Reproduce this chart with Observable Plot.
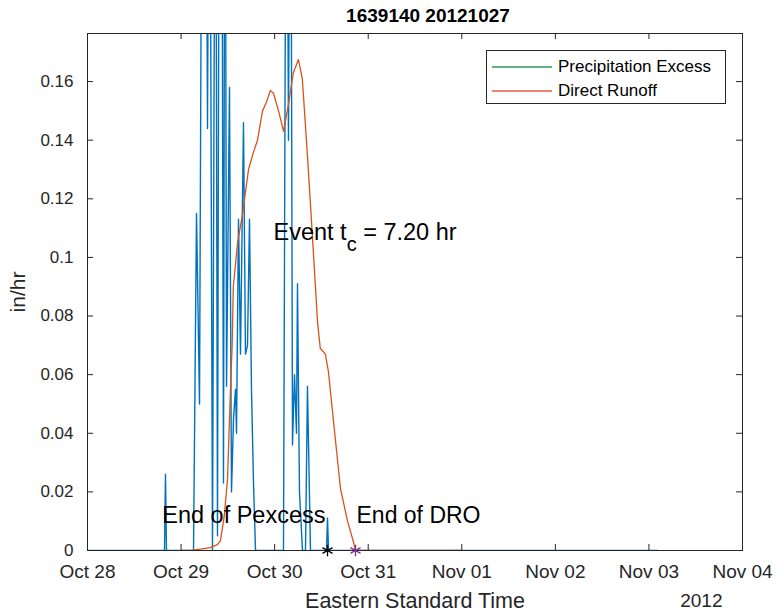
<!DOCTYPE html>
<html>
<head>
<meta charset="utf-8">
<script src="https://cdn.jsdelivr.net/npm/d3@7"></script>
<script src="https://cdn.jsdelivr.net/npm/@observablehq/plot@0.6"></script>
<style>
  body { margin: 0; background: #fff; font-family: "Liberation Sans", Arial, sans-serif; }
  #wrap { position: relative; width: 777px; height: 615px; }
  #legend { position: absolute; left: 486px; top: 50px; width: 240px; height: 54px;
            border: 1px solid #262626; background: #fff; box-sizing: border-box; }
  .row { position: absolute; left: 5px; height: 20px; display: flex; align-items: center;
         font-size: 17px; color: #000; white-space: nowrap; }
  .row svg { margin-right: 5px; }
</style>
</head>
<body>
<div id="wrap"></div>
<script>
// ---------------- data ----------------
const titleText = "1639140 20121027";
const eventStart = Date.UTC(2012, 9, 28); // Oct 28 2012 00:00 EST (axis origin)

// Precipitation excess (blue), hours since Oct 28 00:00 and in/hr
const pexHours  = [0, 19.75, 20.0, 20.26, 27.19, 27.96, 28.73, 29.49, 30.26, 30.78, 31.29, 32.06, 32.83, 33.34,
                   33.86, 34.37, 34.88, 35.27, 35.66, 36.42, 36.93, 37.45, 37.96, 38.22, 38.73, 39.24, 40.01,
                   40.52, 41.04, 41.55, 42.06, 42.58, 43.09, 50.27, 51.04, 51.55, 52.07, 52.58, 53.09, 53.60,
                   53.86, 54.37, 55.14, 55.91, 56.42, 57.19, 61.30, 61.56, 61.82, 146.2];
const pexValues = [0, 0, 0.026, 0, 0, 0.115, 0.05, 0.30, 0.30, 0.144, 0.30, 0, 0.30, 0.005,
                   0.30, 0.30, 0.023, 0.30, 0.056, 0.158, 0.02, 0.045, 0.055, 0.04, 0.113, 0.067, 0.146,
                   0.067, 0.07, 0.113, 0.055, 0.023, 0, 0, 0.30, 0.14, 0.30, 0.036, 0.06, 0.04,
                   0.091, 0.02, 0, 0, 0.056, 0, 0, 0.011, 0, 0];

// Direct runoff (orange)
const droHours  = [24, 26.4, 29.0, 31.5, 33.3, 34.1, 35.1, 35.9, 36.3, 36.7, 37.1, 37.4, 38.5, 39.8, 41.3, 42.6,
                   43.6, 44.9, 45.9, 46.9, 47.7, 49.0, 50.3, 51.5, 52.8, 54.1, 55.1, 56.4, 57.7, 59.0, 59.7,
                   61.0, 61.8, 63.1, 64.9, 66.7, 68.2, 68.74, 96];
const droValues = [0, 0, 0.0005, 0.001, 0.002, 0.0034, 0.012, 0.024, 0.04, 0.056, 0.07, 0.09, 0.105, 0.115, 0.13, 0.136,
                   0.14, 0.15, 0.153, 0.157, 0.156, 0.15, 0.143, 0.152, 0.163, 0.1675, 0.161, 0.135, 0.107, 0.078, 0.069,
                   0.067, 0.061, 0.044, 0.021, 0.010, 0.003, 0, 0];

// End markers
const endHours  = [61.56, 68.74];
const endLabels = ["End of Pexcess", "End of DRO"];
const endColors = ["#000000", "#7E2F8E"];
const endTextY  = 0.012;

const eventLabel = "Event t_c = 7.20 hr";
const eventHour = 47.7, eventY = 0.1085;

const xTickDates  = ["2012-10-28", "2012-10-29", "2012-10-30", "2012-10-31", "2012-11-01", "2012-11-02", "2012-11-03", "2012-11-04"];
const xTickLabels = ["Oct 28", "Oct 29", "Oct 30", "Oct 31", "Nov 01", "Nov 02", "Nov 03", "Nov 04"];
const yTicks      = [0, 0.02, 0.04, 0.06, 0.08, 0.1, 0.12, 0.14, 0.16];
const yTickLabels = ["0", "0.02", "0.04", "0.06", "0.08", "0.1", "0.12", "0.14", "0.16"];
const yMax = 0.1764;
const legendNames = ["Precipitation Excess", "Direct Runoff"];
const legendColors = ["#2e9a55", "#e85a45"];

// ---------------- build ----------------
const toDate = h => new Date(eventStart + h * 3600e3);
const pex = pexHours.map((h, i) => ({t: toDate(h), v: pexValues[i]}));
const dro = droHours.map((h, i) => ({t: toDate(h), v: droValues[i]}));
const ends = endHours.map((h, i) => ({t: toDate(h), v: 0, label: endLabels[i], color: endColors[i]}));
const xTicks = xTickDates.map(s => new Date(s + "T00:00:00Z"));
const xLab = new Map(xTicks.map((d, i) => [+d, xTickLabels[i]]));
const yLab = new Map(yTicks.map((d, i) => [d, yTickLabels[i]]));

const W = 777, H = 615, mL = 87, mR = 35, mT = 33, mB = 65;
const pw = W - mL - mR, ph = H - mT - mB, tk = 6;
const ax = "#262626";

const chart = Plot.plot({
  width: W, height: H,
  marginLeft: mL, marginRight: mR, marginTop: mT, marginBottom: mB,
  style: {fontFamily: "'Liberation Sans', Arial, sans-serif", color: ax, background: "#fff"},
  x: {type: "utc", domain: [xTicks[0], xTicks[xTicks.length - 1]]},
  y: {domain: [0, yMax]},
  marks: [
    Plot.line(pex, {x: "t", y: "v", stroke: "#0072BD", strokeWidth: 1.4, clip: true}),
    Plot.line(dro, {x: "t", y: "v", stroke: "#D95319", strokeWidth: 1.3, clip: true}),
    Plot.frame({stroke: ax, strokeWidth: 1}),
    Plot.tickX(xTicks, {x: d => d, insetTop: ph - tk, stroke: ax}),
    Plot.tickX(xTicks, {x: d => d, insetBottom: ph - tk, stroke: ax}),
    Plot.tickY(yTicks, {y: d => d, insetRight: pw - tk, stroke: ax}),
    Plot.tickY(yTicks, {y: d => d, insetLeft: pw - tk, stroke: ax}),
    Plot.dot(ends, {x: "t", y: "v", symbol: "asterisk", r: 5.5, stroke: "color", strokeWidth: 1.3}),
    Plot.text([ends[0]], {x: "t", y: () => endTextY, text: "label", textAnchor: "end", dx: -2, fontSize: 23.5, fill: "#000"}),
    Plot.text([ends[1]], {x: "t", y: () => endTextY, text: "label", textAnchor: "start", dx: 1, fontSize: 23, fill: "#000"}),
    Plot.text([eventLabel], {x: () => toDate(eventHour), y: () => eventY, text: d => d, textAnchor: "start", fontSize: 23.5, fill: "#000"}),
    Plot.axisX(xTicks, {tickSize: 0, tickPadding: 14, tickFormat: d => xLab.get(+d), fontSize: 19, label: null}),
    Plot.axisY(yTicks, {tickSize: 0, tickPadding: 14, tickFormat: d => yLab.get(d), fontSize: 17, label: null}),
    Plot.text(["Eastern Standard Time"], {frameAnchor: "bottom", textAnchor: "middle", lineAnchor: "middle", dy: 51, fontSize: 21.5, fill: ax}),
    Plot.text(["2012"], {frameAnchor: "bottom-right", textAnchor: "end", lineAnchor: "middle", dx: -20, dy: 50, fontSize: 19, fill: ax}),
    Plot.text(["in/hr"], {frameAnchor: "left", textAnchor: "middle", lineAnchor: "middle", rotate: -90, dx: -69, fontSize: 21, fill: ax}),
    Plot.text([titleText], {frameAnchor: "top", textAnchor: "middle", lineAnchor: "middle", dy: -18, dx: 13, fontSize: 19, fontWeight: "bold", fill: "#000"})
  ]
});

// subscript for t_c
d3.select(chart).selectAll("text").filter(function() { return this.textContent === eventLabel; })
  .each(function() {
    const el = d3.select(this);
    el.text(null);
    el.append("tspan").text("Event t");
    el.append("tspan").attr("dy", "11").attr("font-size", "20").text("c");
    el.append("tspan").attr("dy", "-11").text(" = 7.20 hr");
  });

const wrap = document.getElementById("wrap");
wrap.appendChild(chart);

// legend
const lg = document.createElement("div");
lg.id = "legend";
legendNames.forEach((n, i) => {
  const r = document.createElement("div");
  r.className = "row";
  r.style.top = (6 + i * 24) + "px";
  r.innerHTML = `<svg width="61" height="10"><line x1="0" y1="5" x2="60" y2="5" stroke="${legendColors[i]}" stroke-width="1.3"/></svg><span>${n}</span>`;
  lg.appendChild(r);
});
wrap.appendChild(lg);
</script>
</body>
</html>
